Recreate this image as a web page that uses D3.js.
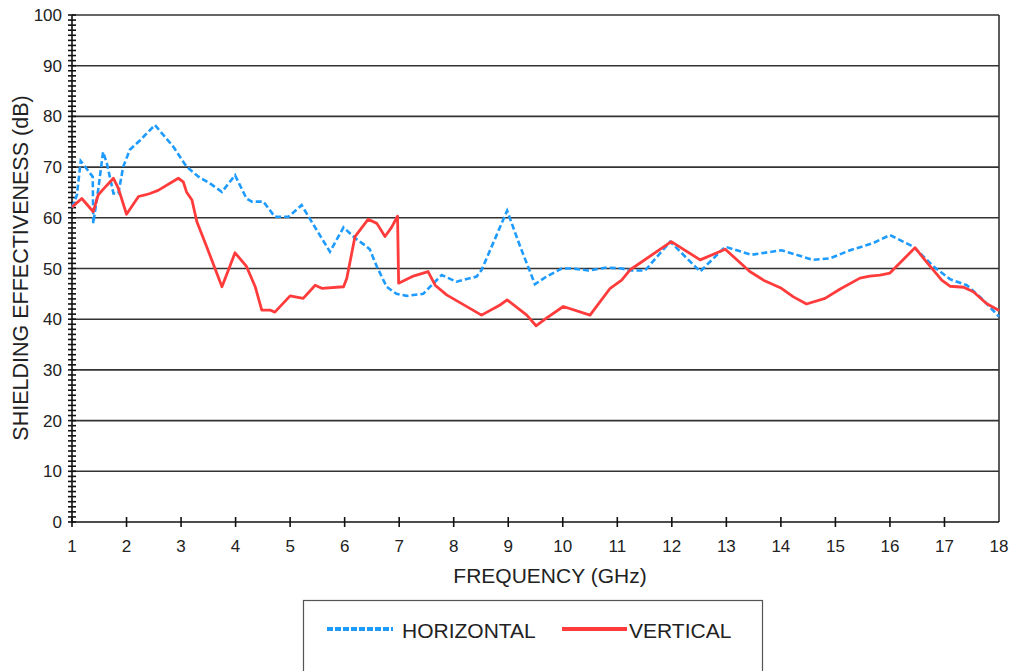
<!DOCTYPE html>
<html>
<head>
<meta charset="utf-8">
<script src="https://cdn.jsdelivr.net/npm/d3@7"></script>
<style>
  body { margin: 0; background: #fff; }
  svg { font-family: "Liberation Sans", Arial, sans-serif; }
</style>
</head>
<body>
<script>
// horizontal polarisation (blue dashed)
const hFreq = [1.0, 1.09, 1.16, 1.38, 1.39, 1.48, 1.57, 1.64, 1.76, 1.85, 1.94, 2.06, 2.25, 2.52, 2.86, 3.10, 3.32, 3.53, 3.75, 3.99,
  4.20, 4.30, 4.51, 4.72, 4.97, 5.21, 5.73, 5.98, 6.19, 6.37, 6.46, 6.59, 6.77, 6.95, 7.14, 7.44, 7.63, 7.78, 8.05, 8.42,
  8.51, 8.98, 9.22, 9.49, 9.70, 9.98, 10.19, 10.47, 10.81, 11.08, 11.26, 11.51, 11.97, 12.52, 12.98, 13.46, 14.01, 14.59, 14.90, 15.27,
  15.69, 16.0, 16.43, 16.80, 17.10, 17.41, 17.71, 18.0];
const hDb = [62.0, 64.5, 71.2, 68.1, 58.9, 65.5, 73.0, 70.7, 64.8, 64.8, 70.1, 73.4, 75.3, 78.3, 74.0, 70.1, 68.1, 66.8, 65.1, 68.4,
  63.8, 63.2, 63.2, 60.2, 60.2, 62.5, 53.3, 58.1, 56.0, 54.6, 53.8, 50.4, 46.4, 45.0, 44.6, 45.0, 47.1, 48.7, 47.4, 48.4,
  49.7, 61.4, 54.3, 46.9, 48.4, 50.0, 50.0, 49.6, 50.2, 50.0, 49.6, 49.6, 55.3, 49.4, 54.3, 52.7, 53.6, 51.7, 52.0, 53.6,
  55.0, 56.6, 54.3, 50.4, 47.9, 46.7, 43.8, 40.5];

// vertical polarisation (red solid)
const vFreq = [1.0, 1.18, 1.39, 1.48, 1.57, 1.76, 1.85, 2.0, 2.22, 2.34, 2.43, 2.58, 2.95, 3.04, 3.10, 3.20, 3.29, 3.47, 3.75, 3.99,
  4.20, 4.36, 4.48, 4.63, 4.72, 5.0, 5.24, 5.46, 5.58, 5.98, 6.04, 6.19, 6.43, 6.59, 6.74, 6.86, 6.97, 6.99, 7.26, 7.53,
  7.66, 7.87, 8.51, 8.85, 8.98, 9.34, 9.51, 9.70, 10.01, 10.50, 10.87, 11.08, 11.23, 11.99, 12.52, 12.98, 13.43, 13.68, 14.01, 14.23,
  14.47, 14.81, 15.08, 15.45, 15.63, 15.82, 16.0, 16.46, 16.67, 16.95, 17.10, 17.35, 17.53, 17.77, 18.0];
const vDb = [62.1, 63.8, 61.2, 64.5, 65.6, 67.8, 65.8, 60.7, 64.2, 64.5, 64.8, 65.4, 67.8, 67.1, 65.1, 63.5, 59.2, 54.3, 46.4, 53.1,
  50.4, 46.4, 41.8, 41.8, 41.4, 44.6, 44.1, 46.7, 46.1, 46.4, 48.1, 56.3, 59.7, 58.9, 56.3, 58.1, 60.3, 47.1, 48.5, 49.4,
  46.7, 44.8, 40.8, 42.8, 43.8, 40.8, 38.7, 40.2, 42.5, 40.8, 46.1, 47.7, 49.7, 55.3, 51.7, 53.8, 49.4, 47.7, 46.1, 44.4,
  43.0, 44.1, 45.9, 48.1, 48.5, 48.7, 49.1, 54.1, 51.3, 47.7, 46.5, 46.3, 45.4, 43.1, 41.7];

const xTicks = d3.range(1, 19);
const yTicks = d3.range(0, 101, 10);
const yMinor = d3.range(0, 101, 1);

const width = 1012, height = 671;
const plot = { left: 72, right: 999, top: 15, bottom: 522 };

const svg = d3.select("body").append("svg")
    .attr("width", width)
    .attr("height", height);

const x = d3.scaleLinear().domain([1, 18]).range([plot.left, plot.right]);
const y = d3.scaleLinear().domain([0, 100]).range([plot.bottom, plot.top]);

// grid lines
svg.append("g")
    .selectAll("line")
    .data(yTicks.filter(d => d > 0))
    .enter().append("line")
    .attr("x1", plot.left).attr("x2", plot.right)
    .attr("y1", d => y(d)).attr("y2", d => y(d))
    .attr("stroke", "#333").attr("stroke-width", 1.6);

// right frame
svg.append("line")
    .attr("x1", plot.right).attr("x2", plot.right)
    .attr("y1", plot.top).attr("y2", plot.bottom)
    .attr("stroke", "#333").attr("stroke-width", 1.6);

// y axis with 1 dB ticks crossing the line
const yAxis = svg.append("g");
yAxis.append("line")
    .attr("x1", plot.left).attr("x2", plot.left)
    .attr("y1", plot.top).attr("y2", plot.bottom)
    .attr("stroke", "#111").attr("stroke-width", 1.6);
yAxis.selectAll("line.tick")
    .data(yMinor)
    .enter().append("line")
    .attr("class", "tick")
    .attr("x1", plot.left - 4).attr("x2", plot.left + 4)
    .attr("y1", d => y(d)).attr("y2", d => y(d))
    .attr("stroke", "#111").attr("stroke-width", 1.6);
yAxis.selectAll("text")
    .data(yTicks)
    .enter().append("text")
    .attr("x", plot.left - 10)
    .attr("y", d => y(d) + 6)
    .attr("text-anchor", "end")
    .attr("font-size", 17)
    .attr("fill", "#222")
    .text(d => d);

// x axis
const xAxis = svg.append("g");
xAxis.append("line")
    .attr("x1", plot.left).attr("x2", plot.right)
    .attr("y1", plot.bottom).attr("y2", plot.bottom)
    .attr("stroke", "#111").attr("stroke-width", 1.6);
xAxis.selectAll("line.tick")
    .data(xTicks.slice(0, -1))
    .enter().append("line")
    .attr("class", "tick")
    .attr("x1", d => x(d)).attr("x2", d => x(d))
    .attr("y1", plot.bottom - 5).attr("y2", plot.bottom + 5)
    .attr("stroke", "#111").attr("stroke-width", 1.6);
xAxis.selectAll("text")
    .data(xTicks)
    .enter().append("text")
    .attr("x", d => x(d))
    .attr("y", plot.bottom + 30)
    .attr("text-anchor", "middle")
    .attr("font-size", 17)
    .attr("fill", "#222")
    .text(d => d);

// axis titles
svg.append("text")
    .attr("x", 550)
    .attr("y", 583)
    .attr("text-anchor", "middle")
    .attr("font-size", 21)
    .attr("fill", "#222")
    .text("FREQUENCY (GHz)");

svg.append("text")
    .attr("transform", "translate(28,268) rotate(-90)")
    .attr("text-anchor", "middle")
    .attr("font-size", 21.5)
    .attr("fill", "#222")
    .text("SHIELDING EFFECTIVENESS (dB)");

// series
const line = d3.line()
    .x(d => x(d[0]))
    .y(d => y(d[1]));

svg.append("path")
    .datum(hFreq.map((f, i) => [f, hDb[i]]))
    .attr("d", line)
    .attr("fill", "none")
    .attr("stroke", "#1e9bff")
    .attr("stroke-width", 2.6)
    .attr("stroke-dasharray", "6,3");

svg.append("path")
    .datum(vFreq.map((f, i) => [f, vDb[i]]))
    .attr("d", line)
    .attr("fill", "none")
    .attr("stroke", "#ff3b3b")
    .attr("stroke-width", 2.8)
    .attr("stroke-linejoin", "round");

// legend
const legend = svg.append("g");
legend.append("rect")
    .attr("x", 303.5).attr("y", 600.5)
    .attr("width", 459).attr("height", 90)
    .attr("fill", "#fff")
    .attr("stroke", "#555").attr("stroke-width", 1.2);
legend.append("line")
    .attr("x1", 327).attr("x2", 393).attr("y1", 629).attr("y2", 629)
    .attr("stroke", "#1e9bff").attr("stroke-width", 4)
    .attr("stroke-dasharray", "6,2");
legend.append("text")
    .attr("x", 402).attr("y", 638)
    .attr("font-size", 21)
    .attr("fill", "#222")
    .text("HORIZONTAL");
legend.append("line")
    .attr("x1", 562).attr("x2", 627).attr("y1", 629).attr("y2", 629)
    .attr("stroke", "#ff3b3b").attr("stroke-width", 4);
legend.append("text")
    .attr("x", 629).attr("y", 638)
    .attr("font-size", 21)
    .attr("fill", "#222")
    .text("VERTICAL");
</script>
</body>
</html>
